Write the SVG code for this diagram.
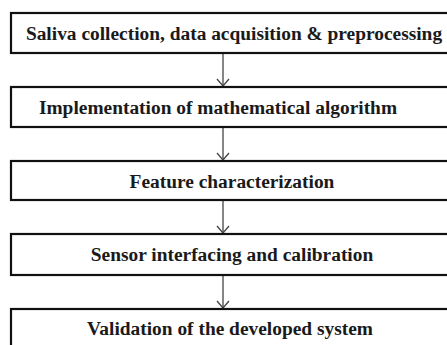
<svg xmlns="http://www.w3.org/2000/svg" width="447" height="345" viewBox="0 0 447 345">
<style>
.box{fill:#fff;stroke:#111;stroke-width:2.2}
.lbl{font-family:"Liberation Serif","Times New Roman",serif;font-weight:bold;font-size:19.4px;fill:#1a1a1a;text-anchor:middle}
.conn{stroke:#444;stroke-width:1.3;fill:none}
</style>
<defs>
<marker id="ah" markerWidth="10" markerHeight="14" refX="8" refY="7" orient="auto" markerUnits="userSpaceOnUse" viewBox="0 0 10 14">
<path d="M1,1 L8,7 L1,13" fill="none" stroke="#444" stroke-width="1.3"/>
</marker>
</defs>
<rect width="447" height="345" fill="#fff"/>
<g id="connectors">
<line class="conn" x1="223" y1="53" x2="223" y2="86" marker-end="url(#ah)"/>
<line class="conn" x1="223" y1="127" x2="223" y2="160" marker-end="url(#ah)"/>
<line class="conn" x1="223" y1="200" x2="223" y2="233" marker-end="url(#ah)"/>
<line class="conn" x1="223" y1="275" x2="223" y2="308" marker-end="url(#ah)"/>
</g>
<g id="node1">
<rect class="box" x="11" y="13" width="450" height="40"/>
<text class="lbl" x="234" y="40">Saliva collection, data acquisition &amp; preprocessing</text>
</g>
<g id="node2">
<rect class="box" x="11" y="87" width="450" height="40"/>
<text class="lbl" x="218" y="114">Implementation of mathematical algorithm</text>
</g>
<g id="node3">
<rect class="box" x="11" y="161" width="450" height="39"/>
<text class="lbl" x="232" y="188">Feature characterization</text>
</g>
<g id="node4">
<rect class="box" x="11" y="234" width="450" height="41"/>
<text class="lbl" x="232" y="261">Sensor interfacing and calibration</text>
</g>
<g id="node5">
<rect class="box" x="11" y="309" width="450" height="50"/>
<text class="lbl" x="230" y="335">Validation of the developed system</text>
</g>
</svg>
